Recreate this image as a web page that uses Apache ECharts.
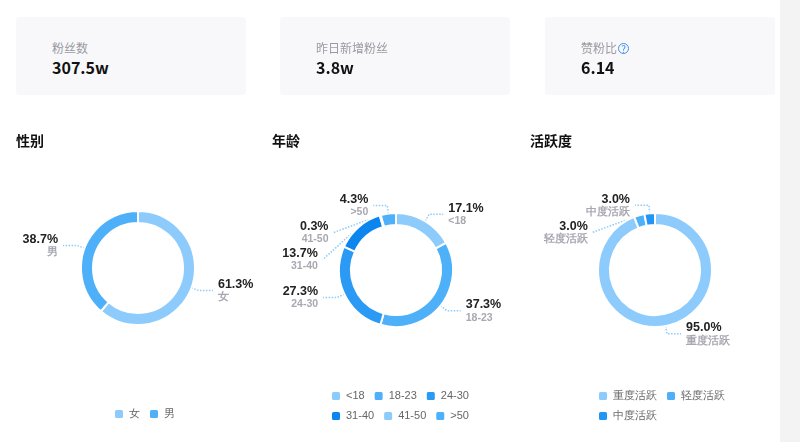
<!DOCTYPE html>
<html><head><meta charset="utf-8">
<script src="https://cdn.jsdelivr.net/npm/echarts@6/dist/echarts.min.js"></script>
<style>
body{margin:0;background:#fff;font-family:"Noto Sans CJK SC","Noto Sans",sans-serif;}
#wrap{position:relative;width:800px;height:442px;overflow:hidden;}
.card{position:absolute;top:17px;height:78px;width:230px;background:#f8f8fa;border-radius:3px;}
.card .l{position:absolute;left:36px;top:22px;font-size:12px;color:#9a9aa2;}
.card .v{position:absolute;left:36px;top:38px;font-size:16px;font-weight:bold;color:#111;}
.t{position:absolute;top:130px;font-size:14px;font-weight:bold;color:#111;}
#chart{position:absolute;left:0;top:0;width:800px;height:442px;}
#bar{position:absolute;left:780px;top:0;width:20px;height:442px;background:#f3f3f3;}
</style></head><body>
<div id="wrap">
<div id="chart"></div>
<div class="card" style="left:16px"><div class="l">粉丝数</div><div class="v">307.5w</div></div>
<div class="card" style="left:280px"><div class="l">昨日新增粉丝</div><div class="v">3.8w</div></div>
<div class="card" style="left:545px"><div class="l">赞粉比<span style="color:#3b8ff0;font-size:10px;border:1px solid #3b8ff0;border-radius:50%;display:inline-block;width:9px;height:9px;line-height:9px;text-align:center;margin-left:1px">?</span></div><div class="v">6.14</div></div>
<div class="t" style="left:16px">性别</div>
<div class="t" style="left:272px">年龄</div>
<div class="t" style="left:530px">活跃度</div>
<div id="bar"></div>
</div>
<script>
var genderNames=['女','男'];
var genderValues=[61.3,38.7];
var ageNames=['<18','18-23','24-30','31-40','41-50','>50'];
var ageValues=[17.1,37.3,27.3,13.7,0.3,4.3];
var actNames=['重度活跃','轻度活跃','中度活跃'];
var actValues=[95.0,3.0,3.0];
var genderColors=['#8ccbfc','#4eb0f9'];
var ageColors=['#8ccbfc','#4eb0f9','#2a9af5','#0a86ee','#8ccbfc','#4eb0f9'];
var actColors=['#8ccbfc','#4eb0f9','#2196f3'];
function mk(names,vals,cols){return names.map(function(n,i){return {name:n,value:vals[i],itemStyle:{color:cols[i]}};});}
function pie(center,data){
 return {type:'pie',center:center,radius:[45,57],startAngle:90,clockwise:true,data:data,
  itemStyle:{borderColor:'#fff',borderWidth:2},
  label:{formatter:function(p){return '{a|'+p.value.toFixed(1)+'%}\n{b|'+p.name+'}';},
   rich:{a:{fontSize:12.5,fontWeight:'bold',color:'#222',lineHeight:14},b:{fontSize:10.5,fontWeight:'bold',color:'#a8a8b2',lineHeight:12}}},
  labelLine:{length:8,length2:14,lineStyle:{type:'dotted',color:'#8ccbfc',width:1.5}},
  emphasis:{scale:false}};
}
var c=echarts.init(document.getElementById('chart'));
var leg={icon:'roundRect',itemWidth:10,itemHeight:10,itemGap:8,textStyle:{color:'#666',fontSize:11}};
c.setOption({animation:false,
 legend:[Object.assign({data:genderNames,left:108,top:403},leg),
  Object.assign({data:ageNames,left:325,top:385,width:180},leg),
  Object.assign({data:actNames,left:592,top:385,width:140},leg)],
 series:[pie([138,268],mk(genderNames,genderValues,genderColors)),
  pie([396,270],mk(ageNames,ageValues,ageColors)),
  pie([655,270],mk(actNames,actValues,actColors))]});
</script></body></html>
